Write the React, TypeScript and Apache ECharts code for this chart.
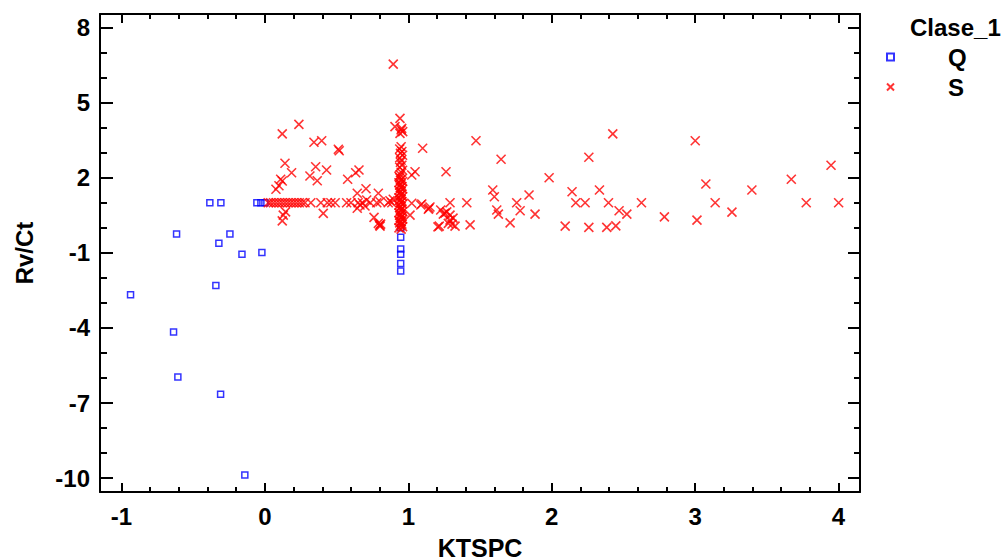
import React, { useEffect, useRef } from "react";
import * as echarts from "echarts";

// Axis ticks / labels
const xMajorTicks = [-1, 0, 1, 2, 3, 4];
const xMinorTicks = [-0.8, -0.6, -0.4, -0.2, 0.2, 0.4, 0.6, 0.8, 1.2, 1.4, 1.6, 1.8, 2.2, 2.4, 2.6, 2.8, 3.2, 3.4, 3.6, 3.8];
const yMajorTicks = [-10, -7, -4, -1, 2, 5, 8];
const yMinorTicks = [-9, -8, -6, -5, -3, -2, 0, 1, 3, 4, 6, 7];

// Clase_1 = Q (blue squares)
const qPoints = [
  [-0.384, 1.0], [-0.307, 1.0], [-0.056, 1.0], [-0.028, 1.0], [0.0, 1.0],
  [-0.616, -0.25], [-0.244, -0.25], [-0.321, -0.62], [-0.16, -1.05], [-0.021, -0.99],
  [-0.342, -2.3], [-0.937, -2.67], [-0.637, -4.16], [-0.607, -5.96], [-0.309, -6.65],
  [-0.14, -9.87],
  [0.947, 0.0], [0.947, -0.38], [0.947, -0.85], [0.947, -1.05], [0.947, -1.42], [0.947, -1.72],
];

// Clase_1 = S (red crosses): vertical band near KTSPC ~0.95
const sColumn = [
  [0.895, 6.54],
  [0.942, 4.37], [0.907, 4.04], [0.954, 3.97], [0.961, 3.84], [0.942, 3.77], [0.95, 3.91],
  [0.95, 3.24], [0.94, 3.15], [0.955, 3.05], [0.945, 2.98], [0.96, 2.9], [0.94, 2.8],
  [0.95, 2.7], [0.945, 2.62], [0.955, 2.5], [0.94, 2.42], [0.96, 2.3], [0.95, 2.22],
  [0.945, 2.12], [0.935, 2.06],
  [0.94, 2.0], [0.955, 1.95], [0.945, 1.9], [0.96, 1.85], [0.935, 1.8], [0.95, 1.75],
  [0.94, 1.7], [0.955, 1.65], [0.945, 1.6], [0.96, 1.55], [0.935, 1.5], [0.95, 1.45],
  [0.94, 1.4], [0.955, 1.35], [0.945, 1.3], [0.96, 1.25], [0.935, 1.2], [0.95, 1.15],
  [0.94, 1.1], [0.955, 1.05], [0.945, 1.0], [0.96, 0.95], [0.935, 0.9], [0.95, 0.85],
  [0.94, 0.8], [0.955, 0.75], [0.945, 0.7], [0.96, 0.65], [0.935, 0.6], [0.95, 0.55],
  [0.94, 0.5], [0.955, 0.45], [0.945, 0.4], [0.96, 0.35], [0.935, 0.3], [0.95, 0.25],
  [0.94, 0.2], [0.955, 0.15], [0.945, 0.1], [0.96, 0.05], [0.935, 0.0], [0.95, -0.05],
];

// S: horizontal band near Rv/Ct ~1.0
const sRow = [
  [0.023, 1.0], [0.04, 1.0], [0.06, 1.0], [0.08, 1.0], [0.1, 1.0], [0.12, 1.0], [0.14, 1.0],
  [0.16, 1.0], [0.18, 1.0], [0.2, 1.0], [0.22, 1.0], [0.24, 1.0], [0.26, 1.0], [0.28, 1.0],
  [0.32, 1.0], [0.39, 1.0], [0.435, 1.0], [0.46, 1.0], [0.49, 1.0], [0.57, 1.0], [0.6, 1.0],
  [0.65, 1.0], [0.68, 1.0], [0.735, 1.0], [0.78, 1.0], [0.86, 1.0], [0.885, 1.0],
  [0.803, 1.04], [0.872, 1.08], [0.895, 1.14],
];

// S: remaining scattered points
const sScatter = [
  [0.237, 4.13], [0.121, 3.75], [0.342, 3.42], [0.396, 3.48], [0.512, 3.14], [0.518, 3.08],
  [0.14, 2.58], [0.186, 2.2], [0.354, 2.44], [0.43, 2.31], [0.314, 2.07], [0.365, 1.88],
  [0.11, 1.94], [0.121, 1.87], [0.077, 1.54], [0.098, 1.68], [0.577, 1.94], [0.633, 2.2],
  [0.656, 2.31], [0.705, 1.56], [0.644, 1.38], [0.791, 1.38],
  [0.128, 0.51], [0.144, 0.64], [0.121, 0.28], [0.407, 0.58], [0.644, 0.78], [0.663, 0.91],
  [0.698, 0.87], [0.71, 1.11], [0.761, 0.42], [0.791, 0.18], [0.803, 0.07], [0.807, 0.15],
  [0.8, 0.11],
  [1.1, 3.18], [1.024, 2.11], [1.047, 2.24], [1.024, 0.98], [1.094, 0.95], [1.14, 0.74],
  [1.012, 0.51], [1.207, 0.04], [1.087, 0.91], [1.144, 0.78],
  [1.226, 0.71], [1.244, 0.55], [1.268, 0.64], [1.216, 0.07], [1.279, 0.18],
  [1.263, 2.24], [1.472, 3.48], [2.426, 3.75], [1.647, 2.74], [2.259, 2.82], [1.982, 2.0],
  [1.589, 1.51], [1.6, 1.24], [1.842, 1.31], [2.142, 1.44], [2.333, 1.51],
  [1.756, 1.0], [1.78, 0.68], [1.408, 1.0], [1.291, 1.0], [2.168, 1.0], [2.233, 1.0],
  [2.396, 1.0], [2.47, 0.68], [2.524, 0.55], [2.626, 1.0], [2.786, 0.44],
  [1.617, 0.71], [1.628, 0.55], [1.884, 0.55], [1.71, 0.2], [1.431, 0.12],
  [1.291, 0.31], [1.305, 0.15], [1.326, 0.07], [1.312, 0.39], [1.151, 0.83], [1.256, 0.59],
  [1.291, 0.51],
  [2.094, 0.07], [2.259, 0.02], [2.384, 0.02], [2.447, 0.08],
  [3.001, 3.48], [3.075, 1.75], [3.14, 1.0], [3.257, 0.63], [3.396, 1.51], [3.013, 0.31],
  [3.671, 1.94], [3.775, 1.0], [3.948, 2.5], [4.001, 1.0],
];

const FONT = "'Liberation Sans', Arial, Helvetica, sans-serif";
const CROSS = "path://M0,0L10,10M10,0L0,10";

const X_MIN = -1.15;
const X_MAX = 4.15;
const Y_MIN = -10.55;
const Y_MAX = 8.54;

function tickAxis(
  position: string,
  min: number,
  max: number,
  ticks: number[],
  len: number,
  showLine: boolean,
  extra: any = {}
) {
  return {
    type: "value",
    gridIndex: 0,
    position,
    min,
    max,
    splitLine: { show: false },
    axisLine: { show: showLine, onZero: false, lineStyle: { color: "#000", width: 2 } },
    axisTick: {
      show: true,
      inside: true,
      length: len,
      customValues: ticks,
      lineStyle: { color: "#000", width: 2 },
    },
    axisLabel: { show: false },
    ...extra,
  };
}

export default function App() {
  const ref = useRef<HTMLDivElement>(null);

  useEffect(() => {
    document.body.style.margin = "0";
    if (!ref.current) return;
    const chart = echarts.init(ref.current, null, { renderer: "svg" });

    const labelStyle = { fontFamily: FONT, fontSize: 24, fontWeight: "bold", color: "#000" };

    const option: any = {
      animation: false,
      backgroundColor: "#fff",
      title: {
        text: "Clase_1",
        left: 910,
        top: 15,
        padding: 0,
        textStyle: { fontFamily: FONT, fontSize: 24, fontWeight: "bold", color: "#000" },
      },
      legend: {
        data: ["Q", "S"],
        orient: "vertical",
        left: 886,
        top: 42,
        padding: 0,
        itemGap: 0,
        itemWidth: 7,
        itemHeight: 7,
        selectedMode: false,
        textStyle: {
          fontFamily: FONT,
          fontSize: 24,
          fontWeight: "bold",
          color: "#000",
          lineHeight: 30,
          padding: [0, 0, 0, 49],
        },
      },
      grid: { left: 100, right: 143, top: 14, bottom: 68, outerBoundsMode: "none", containLabel: false },
      xAxis: [
        tickAxis("bottom", X_MIN, X_MAX, xMajorTicks, 9, true, {
          name: "KTSPC",
          nameLocation: "middle",
          nameGap: 43,
          nameTextStyle: { fontFamily: FONT, fontSize: 25, fontWeight: "bold", color: "#000" },
          axisLabel: { show: true, margin: 12, customValues: xMajorTicks, ...labelStyle },
        }),
        tickAxis("bottom", X_MIN, X_MAX, xMinorTicks, 5, false),
        tickAxis("top", X_MIN, X_MAX, xMajorTicks, 9, true),
        tickAxis("top", X_MIN, X_MAX, xMinorTicks, 5, false),
      ],
      yAxis: [
        tickAxis("left", Y_MIN, Y_MAX, yMajorTicks, 13, true, {
          name: "Rv/Ct",
          nameLocation: "middle",
          nameGap: 64,
          nameTextStyle: { fontFamily: FONT, fontSize: 24, fontWeight: "bold", color: "#000" },
          axisLabel: { show: true, margin: 10, customValues: yMajorTicks, ...labelStyle },
        }),
        tickAxis("left", Y_MIN, Y_MAX, yMinorTicks, 7, false),
        tickAxis("right", Y_MIN, Y_MAX, yMajorTicks, 12, true),
        tickAxis("right", Y_MIN, Y_MAX, yMinorTicks, 6, false),
      ],
      series: [
        {
          type: "scatter",
          name: "Q",
          xAxisIndex: 0,
          yAxisIndex: 0,
          data: qPoints,
          symbol: "rect",
          symbolSize: 6,
          itemStyle: { color: "transparent", borderColor: "#0000ff", borderWidth: 1.5 },
          silent: true,
          z: 2,
        },
        {
          type: "scatter",
          name: "S",
          xAxisIndex: 0,
          yAxisIndex: 0,
          data: [...sColumn, ...sRow, ...sScatter],
          symbol: CROSS,
          symbolSize: 9,
          itemStyle: { color: "transparent", borderColor: "#ff0000", borderWidth: 1.6 },
          silent: true,
          z: 3,
        },
      ],
    };

    chart.setOption(option);
    return () => chart.dispose();
  }, []);

  return <div ref={ref} style={{ width: 1003, height: 560 }} />;
}
